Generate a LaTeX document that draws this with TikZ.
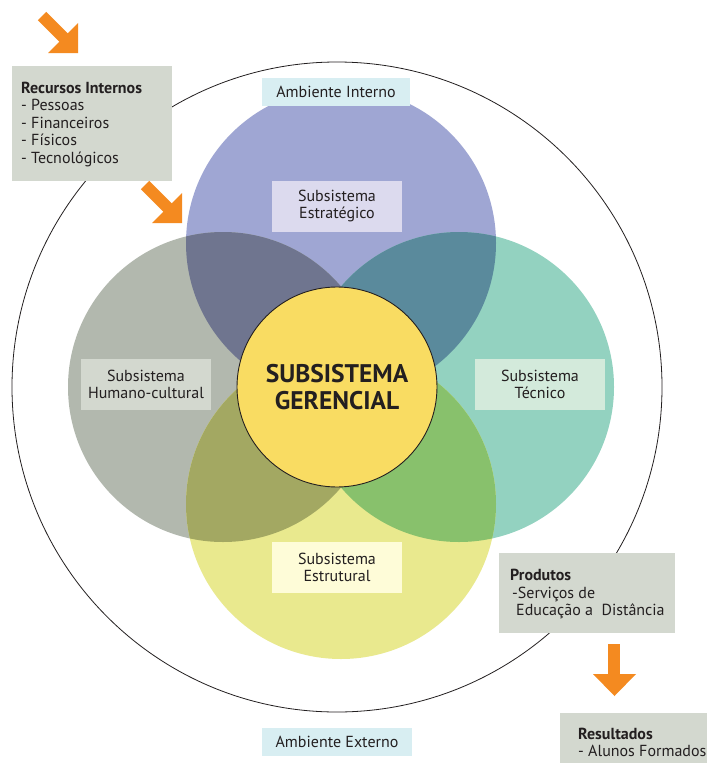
\documentclass[tikz,border=0pt]{standalone}
\usepackage{fontspec}
\setmainfont{PT Sans}
\definecolor{cBlue}{HTML}{9FA6D3}
\definecolor{cGray}{HTML}{B2B8AE}
\definecolor{cTeal}{HTML}{93D2C0}
\definecolor{cYel}{HTML}{E9E98E}
\definecolor{cBG}{HTML}{6F758F}
\definecolor{cBT}{HTML}{5A8A9C}
\definecolor{cGY}{HTML}{A3A862}
\definecolor{cTY}{HTML}{88C16C}
\definecolor{cCenter}{HTML}{F9DC62}
\definecolor{cOrange}{HTML}{F48A20}
\definecolor{cBox}{HTML}{D3D8CF}
\definecolor{cAmb}{HTML}{D8EEF2}
\definecolor{cEstr}{HTML}{DCDAEE}
\definecolor{cTec}{HTML}{D3EADB}
\definecolor{cEstru}{HTML}{FEFCD8}
\definecolor{cTxt}{HTML}{231F20}
\begin{document}
\begin{tikzpicture}[x=1pt,y=-1pt,
  lbl/.style={inner sep=0pt, align=center, text=cTxt, font=\fontsize{16}{17.5}\selectfont},
  sub/.style={lbl, minimum width=130pt, minimum height=51pt},
  amb/.style={lbl, fill=cAmb, minimum height=28pt},
  infobox/.style={fill=cBox, inner sep=0pt},
  infotext/.style={inner sep=0pt, align=left, anchor=north west, text=cTxt, font=\fontsize{16}{17.5}\selectfont},
  orangearrow/.style={fill=cOrange},
  shaft/.style={draw=cOrange, line width=12pt}
]
\useasboundingbox (0,0) rectangle (707,763);
\fill[white] (0,0) rectangle (707,763);

% centres
\coordinate (cO) at (337,387);
\coordinate (cT) at (341,243);
\coordinate (cL) at (223,387);
\coordinate (cR) at (459,387);
\coordinate (cB) at (341,504);

% outer circle
\draw[line width=0.8pt, cTxt] (cO) circle[radius=325pt];

% four circles
\fill[cBlue] (cT) circle[radius=155pt];
\fill[cGray] (cL) circle[radius=155pt];
\fill[cTeal] (cR) circle[radius=155pt];
\fill[cYel] (cB) circle[radius=155pt];
% overlaps
\begin{scope}\clip (cT) circle[radius=155pt]; \fill[cBG] (cL) circle[radius=155pt]; \fill[cBT] (cR) circle[radius=155pt]; \end{scope}
\begin{scope}\clip (cB) circle[radius=155pt]; \fill[cGY] (cL) circle[radius=155pt]; \fill[cTY] (cR) circle[radius=155pt]; \end{scope}

% centre circle
\node[circle, draw=cTxt, line width=0.9pt, fill=cCenter, minimum size=200pt, inner sep=0pt,
      align=center, text=cTxt, font=\bfseries\fontsize{25.5}{27}\selectfont] (ger) at (cO) {SUBSISTEMA\\GERENCIAL};

% labels
\node[amb, minimum width=148pt] (ambint) at (336,91.5) {Ambiente Interno};
\node[amb, minimum width=150pt] (ambext) at (337,741.5) {Ambiente Externo};
\node[sub, fill=cEstr] (estr) at (337,206) {Subsistema\\Estratégico};
\node[sub, fill=cBox] (hum) at (146,384.5) {Subsistema\\Humano-cultural};
\node[sub, fill=cTec] (tec) at (540,384.5) {Subsistema\\Técnico};
\node[sub, fill=cEstru] (estru) at (337,567.5) {Subsistema\\Estrutural};

% info boxes
\fill[infobox] (12,66) rectangle (172,181);
\node[infotext] (rec) at (21,81.5) {\textbf{Recursos Internos}\\- Pessoas\\- Financeiros\\- Físicos\\- Tecnológicos};
\fill[infobox] (499,553) rectangle (675,633);
\node[infotext] (prod) at (510,569) {\textbf{Produtos}\\\hspace*{2pt}-Serviços de\\\hspace*{6pt}Educação a\ \ Distância};
\fill[infobox] (560,713) rectangle (707,763);
\node[infotext] (res) at (578,727.5) {\textbf{Resultados}\\- Alunos Formados};

% orange arrows
\draw[shaft] (42,16) -- (64,38);
\fill[orangearrow] (78,23) -- (78,53) -- (48,53) -- cycle;
\draw[shaft] (145,185) -- (168,208);
\fill[orangearrow] (182,193) -- (182,223) -- (152,223) -- cycle;
\draw[shaft] (614,644) -- (614,675);
\fill[orangearrow] (593,674) -- (636,674) -- (614.5,696) -- cycle;
\end{tikzpicture}
\end{document}
